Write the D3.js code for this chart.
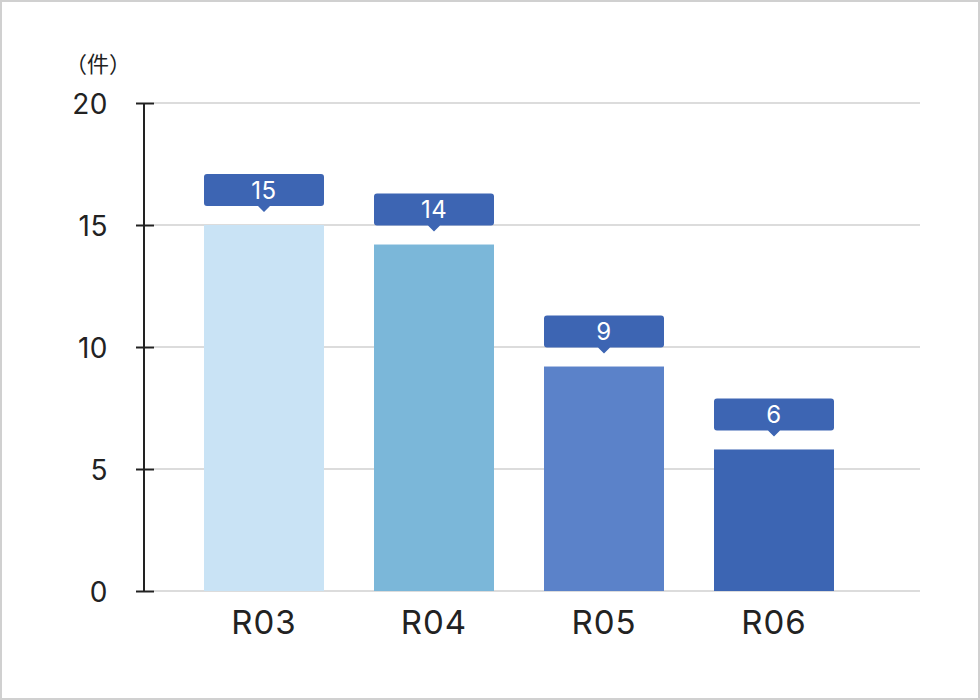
<!DOCTYPE html>
<html><head><meta charset="utf-8">
<script src="https://cdn.jsdelivr.net/npm/d3@7"></script>
<style>
html,body{margin:0;padding:0;background:#fff;}
svg{display:block;}
</style></head>
<body>
<script>
const categories = ["R03", "R04", "R05", "R06"];
const values = [15, 14.2, 9.2, 5.8];
const labels = ["15", "14", "9", "6"];
const barColors = ["#c9e3f5", "#7bb7d9", "#5b82c9", "#3c65b3"];
const yTicks = [0, 5, 10, 15, 20];
const unitLabel = "（件）";

const W = 980, H = 700;
const font = "Inter, 'Noto Sans CJK JP', sans-serif";
const cjk = "'Noto Sans CJK JP', sans-serif";
const svg = d3.select("body").append("svg").attr("width", W).attr("height", H);

svg.append("rect").attr("x", 1).attr("y", 1).attr("width", W - 2).attr("height", H - 2)
  .attr("fill", "#fff").attr("stroke", "#d0d0d0").attr("stroke-width", 2);

const y = d3.scaleLinear().domain([0, 20]).range([591, 103]);
const x = d3.scaleBand().domain(categories).range([179, 859])
  .paddingInner(50 / 170).paddingOuter(25 / 170);

// gridlines
svg.append("g").selectAll("line").data(yTicks).join("line")
  .attr("x1", 154).attr("x2", 920)
  .attr("y1", d => y(d)).attr("y2", d => y(d))
  .attr("stroke", "#dcdcdc").attr("stroke-width", 2);

// bars
svg.append("g").selectAll("rect").data(values).join("rect")
  .attr("x", (d, i) => x(categories[i]))
  .attr("width", x.bandwidth())
  .attr("y", d => y(d))
  .attr("height", d => y(0) - y(d))
  .attr("fill", (d, i) => barColors[i]);

// y axis
const yAxis = d3.axisLeft(y).tickValues(yTicks).tickSize(8).tickPadding(28);
const gy = svg.append("g").attr("transform", "translate(144,0)").call(yAxis);
gy.select(".domain").remove();
gy.append("line").attr("x1", 0).attr("x2", 0).attr("y1", y(20)).attr("y2", y(0))
  .attr("stroke", "#222").attr("stroke-width", 2);
gy.selectAll(".tick line").attr("x1", -8).attr("x2", 10).attr("stroke", "#222").attr("stroke-width", 2);
gy.selectAll(".tick text").attr("font-family", font).attr("font-size", 28)
  .attr("fill", "#222").attr("dy", "0.36em").attr("x", -36).attr("letter-spacing", 0.5);

// x axis labels
const xAxis = d3.axisBottom(x).tickSize(0);
const gx = svg.append("g").attr("transform", `translate(0,${y(0)})`).call(xAxis);
gx.select(".domain").remove();
gx.selectAll(".tick text").attr("font-family", font).attr("font-size", 33)
  .attr("fill", "#222").attr("y", 43).attr("dy", 0).attr("letter-spacing", 1);

// unit label
svg.append("text").attr("x", 98).attr("y", 62).attr("text-anchor", "middle")
  .attr("dominant-baseline", "central")
  .attr("font-family", cjk).attr("font-size", 22).attr("fill", "#222").text(unitLabel);

// value callouts
const lab = svg.append("g").selectAll("g").data(values).join("g")
  .attr("transform", (d, i) => `translate(${x(categories[i]) + x.bandwidth() / 2},${y(d) - 19})`);
const bw = x.bandwidth();
lab.append("path")
  .attr("d", () => {
    const h = 32, r = 3, w2 = bw / 2, t = 6;
    return `M${-w2 + r},${-h} H${w2 - r} Q${w2},${-h} ${w2},${-h + r} V${-r} Q${w2},0 ${w2 - r},0 H${t} L0,${t} L${-t},0 H${-w2 + r} Q${-w2},0 ${-w2},${-r} V${-h + r} Q${-w2},${-h} ${-w2 + r},${-h} Z`;
  })
  .attr("fill", "#3d65b3");
lab.append("text").attr("y", -16).attr("text-anchor", "middle").attr("dominant-baseline", "central")
  .attr("font-family", font).attr("font-size", 24).attr("fill", "#fff").attr("letter-spacing", 0.5)
  .text((d, i) => labels[i]);
</script>
</body></html>
